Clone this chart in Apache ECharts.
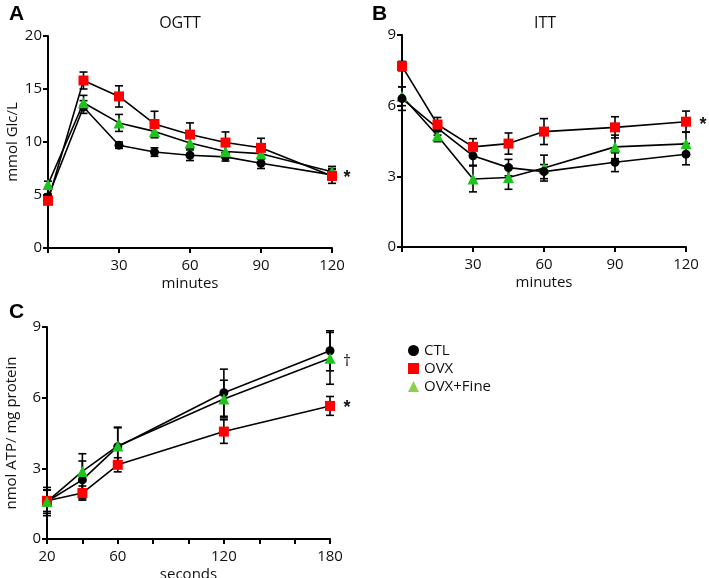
<!DOCTYPE html>
<html><head><meta charset="utf-8">
<script src="https://cdn.jsdelivr.net/npm/echarts@6/dist/echarts.min.js"></script>
<style>html,body{margin:0;padding:0;background:#fff}#c{width:709px;height:578px}</style>
</head><body><div id="c"></div><script>
// ---- data ----
const seriesNames = ['CTL', 'OVX', 'OVX+Fine'];

const ogttMinutes = [0, 15, 30, 45, 60, 75, 90, 120];
const ogttCTL = [4.8, 13.3, 9.7, 9.05, 8.75, 8.6, 8.0, 6.9];
const ogttCTLErr = [0.3, 0.6, 0.3, 0.4, 0.5, 0.4, 0.5, 0.5];
const ogttOVX = [4.45, 15.8, 14.3, 11.7, 10.7, 9.95, 9.45, 6.8];
const ogttOVXErr = [0.3, 0.8, 1.0, 1.2, 1.1, 1.0, 0.9, 0.7];
const ogttFine = [6.0, 13.7, 11.8, 11.0, 9.9, 9.1, 8.9, 7.2];
const ogttFineErr = [0.3, 0.7, 0.8, 0.6, 0.5, 0.5, 0.5, 0.5];

const ittMinutes = [0, 15, 30, 45, 60, 90, 120];
const ittCTL = [6.3, 5.05, 3.87, 3.37, 3.2, 3.6, 3.94];
const ittCTLErr = [0.5, 0.3, 0.4, 0.35, 0.3, 0.4, 0.45];
const ittOVX = [7.68, 5.2, 4.25, 4.39, 4.9, 5.08, 5.32];
const ittOVXErr = [0.2, 0.3, 0.35, 0.45, 0.55, 0.45, 0.45];
const ittFine = [6.4, 4.72, 2.89, 2.95, 3.35, 4.25, 4.38];
const ittFineErr = [0.4, 0.25, 0.55, 0.5, 0.55, 0.5, 0.5];

const atpSeconds = [20, 40, 60, 120, 180];
const atpCTL = [1.59, 2.51, 3.92, 6.21, 7.99];
const atpCTLErr = [0.5, 0.8, 0.8, 1.0, 0.85];
const atpOVX = [1.62, 1.95, 3.15, 4.56, 5.65];
const atpOVXErr = [0.45, 0.3, 0.3, 0.5, 0.4];
const atpFine = [1.59, 2.87, 3.95, 5.94, 7.67];
const atpFineErr = [0.6, 0.75, 0.8, 0.8, 1.1];

const ogttYTicks = [0, 5, 10, 15, 20];
const ittYTicks = [0, 3, 6, 9];
const atpYTicks = [0, 3, 6, 9];
const minuteTickLabels = [30, 60, 90, 120];
const secondTickLabels = [20, 60, 120, 180];

// ---- styles ----
const FONT = '"Open Sans", sans-serif';
const colors = { CTL: '#000000', OVX: '#ff0000', 'OVX+Fine': '#1ec41e' };
const symbols = { CTL: 'circle', OVX: 'rect', 'OVX+Fine': 'triangle' };
const sizes = { CTL: 9, OVX: 10, 'OVX+Fine': 11 };

function errSeries(ai, xs, ys, es) {
  return {
    type: 'custom', xAxisIndex: ai, yAxisIndex: ai, silent: true, z: 1,
    data: xs.map((x, i) => [x, ys[i] - es[i], ys[i] + es[i]]),
    encode: { x: 0, y: [1, 2] },
    renderItem: (params, api) => {
      const lo = api.coord([api.value(0), api.value(1)]);
      const hi = api.coord([api.value(0), api.value(2)]);
      const w = 4;
      const st = { stroke: '#000', lineWidth: 1.6 };
      return { type: 'group', children: [
        { type: 'line', shape: { x1: lo[0], y1: lo[1], x2: hi[0], y2: hi[1] }, style: st },
        { type: 'line', shape: { x1: lo[0] - w, y1: lo[1], x2: lo[0] + w, y2: lo[1] }, style: st },
        { type: 'line', shape: { x1: hi[0] - w, y1: hi[1], x2: hi[0] + w, y2: hi[1] }, style: st }
      ]};
    }
  };
}
function lineSeries(ai, name, xs, ys) {
  return {
    type: 'line', name: name, xAxisIndex: ai, yAxisIndex: ai, z: 3,
    data: xs.map((x, i) => [x, ys[i]]),
    symbol: symbols[name], symbolSize: sizes[name], showSymbol: true,
    itemStyle: { color: colors[name], borderWidth: 0 },
    lineStyle: { color: '#000', width: 1.6 },
    emphasis: { disabled: true }, animation: false
  };
}

const axisCommon = {
  axisLine: { show: true, lineStyle: { color: '#000', width: 2 } },
  axisTick: { show: true, length: 5, lineStyle: { color: '#000', width: 2 } },
  splitLine: { show: false },
  axisLabel: { color: '#111', fontSize: 15, fontFamily: FONT, margin: 6 },
  nameTextStyle: { color: '#111', fontSize: 15, fontFamily: FONT }
};
function xAx(gi, min, max, interval, labels, name) {
  return Object.assign({}, axisCommon, {
    type: 'value', gridIndex: gi, min: min, max: max, interval: interval,
    name: name, nameLocation: 'middle', nameGap: 28,
    axisLabel: Object.assign({}, axisCommon.axisLabel, {
      margin: 10,
      formatter: v => labels.indexOf(v) >= 0 ? String(v) : ''
    })
  });
}
function yAx(gi, ticks, name) {
  return Object.assign({}, axisCommon, {
    type: 'value', gridIndex: gi, min: ticks[0], max: ticks[ticks.length - 1],
    interval: ticks[1] - ticks[0], name: name, nameLocation: 'middle', nameGap: 28
  });
}

const chart = echarts.init(document.getElementById('c'), null, { renderer: 'canvas' });
chart.setOption({
  animation: false,
  backgroundColor: '#fff',
  textStyle: { fontFamily: FONT },
  grid: [
    { left: 48, top: 36, width: 284, height: 212, outerBoundsMode: 'none', containLabel: false },
    { left: 402, top: 35, width: 284, height: 212, outerBoundsMode: 'none', containLabel: false },
    { left: 47, top: 327, width: 283, height: 212, outerBoundsMode: 'none', containLabel: false }
  ],
  xAxis: [
    xAx(0, 0, 120, 30, minuteTickLabels, 'minutes'),
    xAx(1, 0, 120, 30, minuteTickLabels, 'minutes'),
    xAx(2, 20, 180, 20, secondTickLabels, 'seconds')
  ],
  yAxis: [
    yAx(0, ogttYTicks, 'mmol Glc/L'),
    yAx(1, ittYTicks, ''),
    yAx(2, atpYTicks, 'nmol ATP/ mg protein')
  ],
  legend: {
    orient: 'vertical', left: 403, top: 338, itemWidth: 11, itemHeight: 11,
    itemGap: 3, itemTextGap: 5, selectedMode: false,
    textStyle: { color: '#111', fontSize: 15, fontFamily: FONT, lineHeight: 13 },
    data: [
      { name: 'CTL', icon: 'circle', itemStyle: { color: '#000' } },
      { name: 'OVX', icon: 'rect', itemStyle: { color: '#ff0000' } },
      { name: 'OVX+Fine', icon: 'triangle', itemStyle: { color: '#8ccf4d' } }
    ]
  },
  graphic: [
    { type: 'text', left: 9, top: 4, style: { text: 'A', font: 'bold 21px "Liberation Sans", Arial', fill: '#000' } },
    { type: 'text', left: 372, top: 4, style: { text: 'B', font: 'bold 21px "Liberation Sans", Arial', fill: '#000' } },
    { type: 'text', left: 9, top: 302, style: { text: 'C', font: 'bold 21px "Liberation Sans", Arial', fill: '#000' } },
    { type: 'text', x: 180, y: 23, style: { text: 'OGTT', font: '16px "Open Sans"', fill: '#111', align: 'center', verticalAlign: 'middle' } },
    { type: 'text', x: 545, y: 23, style: { text: 'ITT', font: '16px "Open Sans"', fill: '#111', align: 'center', verticalAlign: 'middle' } },
    { type: 'text', x: 347, y: 178, style: { text: '*', font: 'bold 18px "Liberation Sans"', fill: '#111', align: 'center', verticalAlign: 'middle' } },
    { type: 'text', x: 703, y: 125, style: { text: '*', font: 'bold 18px "Liberation Sans"', fill: '#111', align: 'center', verticalAlign: 'middle' } },
    { type: 'text', x: 347, y: 361, style: { text: '†', font: '16px "Open Sans"', fill: '#111', align: 'center', verticalAlign: 'middle' } },
    { type: 'text', x: 347, y: 408, style: { text: '*', font: 'bold 18px "Liberation Sans"', fill: '#111', align: 'center', verticalAlign: 'middle' } }
  ],
  series: [
    errSeries(0, ogttMinutes, ogttCTL, ogttCTLErr),
    errSeries(0, ogttMinutes, ogttOVX, ogttOVXErr),
    errSeries(0, ogttMinutes, ogttFine, ogttFineErr),
    lineSeries(0, 'CTL', ogttMinutes, ogttCTL),
    lineSeries(0, 'OVX+Fine', ogttMinutes, ogttFine),
    lineSeries(0, 'OVX', ogttMinutes, ogttOVX),

    errSeries(1, ittMinutes, ittCTL, ittCTLErr),
    errSeries(1, ittMinutes, ittOVX, ittOVXErr),
    errSeries(1, ittMinutes, ittFine, ittFineErr),
    lineSeries(1, 'OVX+Fine', ittMinutes, ittFine),
    lineSeries(1, 'CTL', ittMinutes, ittCTL),
    lineSeries(1, 'OVX', ittMinutes, ittOVX),

    errSeries(2, atpSeconds, atpCTL, atpCTLErr),
    errSeries(2, atpSeconds, atpOVX, atpOVXErr),
    errSeries(2, atpSeconds, atpFine, atpFineErr),
    lineSeries(2, 'CTL', atpSeconds, atpCTL),
    lineSeries(2, 'OVX', atpSeconds, atpOVX),
    lineSeries(2, 'OVX+Fine', atpSeconds, atpFine)
  ]
});
</script></body></html>
